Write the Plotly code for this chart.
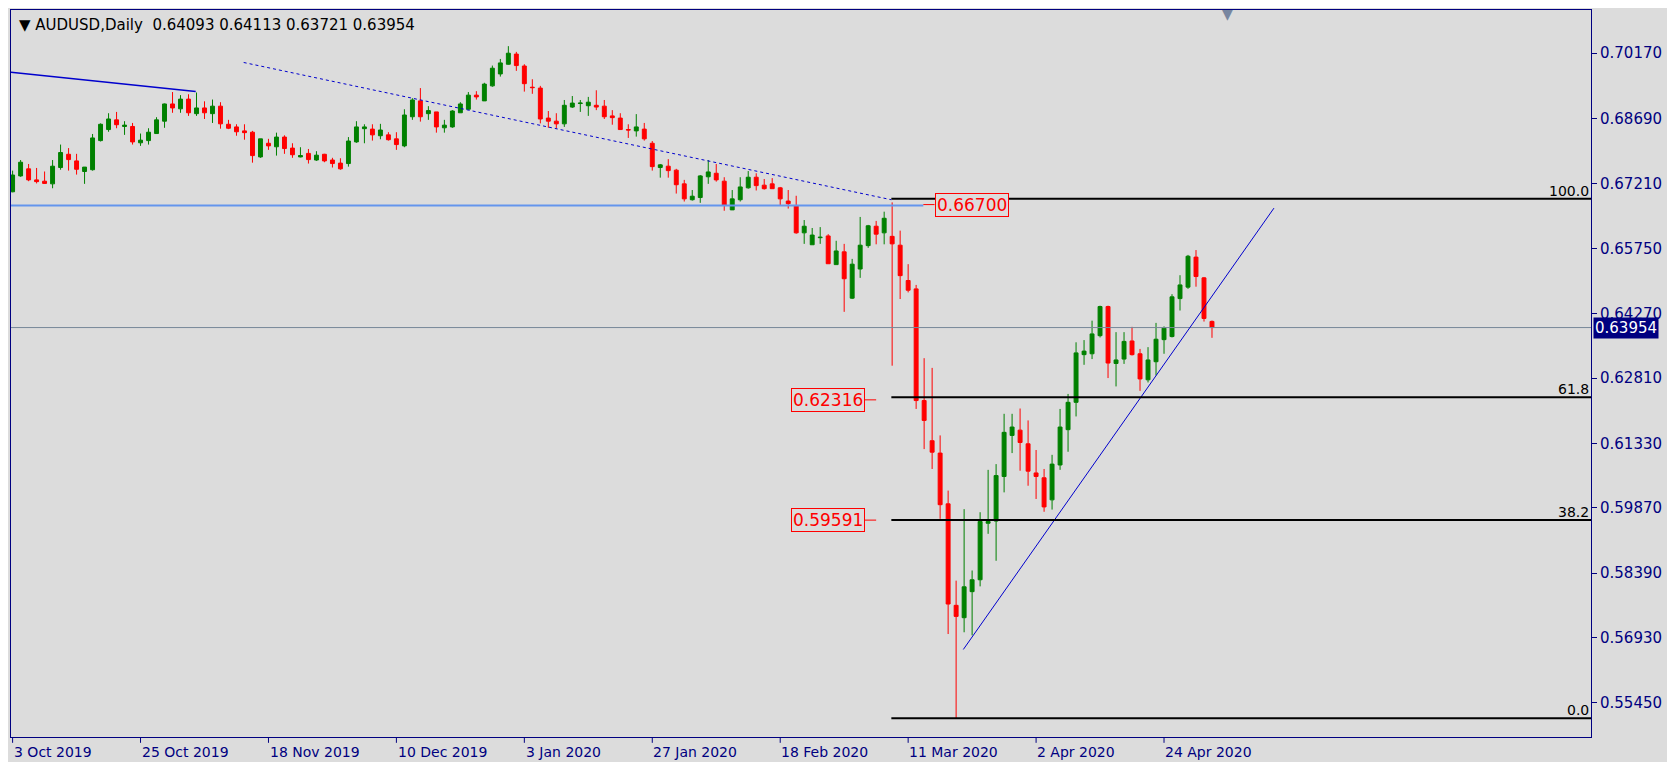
import plotly.graph_objects as go

# ---- data ----
opens = [0.6703,0.6739,0.6755,0.6730,0.6727,0.6721,0.6758,0.6788,0.6773,0.6749,
         0.6753,0.6819,0.6844,0.6866,0.6851,0.6851,0.6814,0.6819,0.6835,0.6863,
         0.6902,0.6891,0.6913,0.6880,0.6893,0.6880,0.6897,0.6856,0.6850,0.6841,
         0.6838,0.6782,0.6813,0.6805,0.6827,0.6802,0.6782,0.6790,0.6775,0.6788,
         0.6775,0.6768,0.6767,0.6816,0.6846,0.6845,0.6830,0.6832,0.6823,0.6807,
         0.6873,0.6909,0.6880,0.6884,0.6848,0.6850,0.6882,0.6890,0.6922,0.6909,
         0.6943,0.6970,0.6992,0.7015,0.6988,0.6940,0.6938,0.6870,0.6863,0.6857,
         0.6895,0.6903,0.6898,0.6899,0.6897,0.6875,0.6870,0.6844,0.6841,0.6845,
         0.6813,0.6758,0.6761,0.6752,0.6721,0.6685,0.6690,0.6737,0.6745,0.6727,
         0.6662,0.6685,0.6712,0.6736,0.6718,0.6721,0.6712,0.6682,0.6672,0.6610,
         0.6583,0.6599,0.6603,0.6538,0.6567,0.6462,0.6528,0.6581,0.6625,0.6610,
         0.6602,0.6582,0.6502,0.6483,0.6230,0.6139,0.6111,0.5996,0.5766,0.5738,
         0.5797,0.5824,0.5952,0.5957,0.6058,0.6151,0.6163,0.6132,0.6066,0.6055,
         0.6005,0.6084,0.6164,0.6226,0.6334,0.6336,0.6377,0.6443,0.6314,0.6324,
         0.6365,0.6336,0.6277,0.6318,0.6368,0.6375,0.6461,0.6487,0.6555,0.6508,
         0.64093]
highs = [0.6751,0.6775,0.6766,0.6757,0.6749,0.6775,0.6810,0.6802,0.6789,0.6759,
         0.6834,0.6858,0.6881,0.6884,0.6863,0.6859,0.6835,0.6847,0.6872,0.6903,
         0.6929,0.6922,0.6924,0.6928,0.6908,0.6912,0.6906,0.6866,0.6856,0.6856,
         0.6841,0.6823,0.6823,0.6837,0.6831,0.6813,0.6804,0.6800,0.6795,0.6789,
         0.6780,0.6779,0.6827,0.6863,0.6856,0.6856,0.6857,0.6838,0.6838,0.6890,
         0.6915,0.6938,0.6897,0.6884,0.6866,0.6888,0.6906,0.6929,0.6931,0.6950,
         0.6989,0.7004,0.7033,0.7020,0.6992,0.6958,0.6943,0.6886,0.6881,0.6911,
         0.6920,0.6911,0.6918,0.6933,0.6911,0.6888,0.6881,0.6856,0.6879,0.6859,
         0.6818,0.6766,0.6777,0.6755,0.6730,0.6707,0.6741,0.6775,0.6766,0.6736,
         0.6707,0.6736,0.6750,0.6745,0.6732,0.6734,0.6714,0.6707,0.6694,0.6639,
         0.6621,0.6623,0.6607,0.6592,0.6585,0.6551,0.6646,0.6628,0.6637,0.6658,
         0.6679,0.6615,0.6539,0.6492,0.6326,0.6304,0.6151,0.6026,0.5822,0.5984,
         0.5845,0.5977,0.6073,0.6086,0.6200,0.6200,0.6212,0.6185,0.6118,0.6075,
         0.6107,0.6211,0.6245,0.6362,0.6367,0.6411,0.6445,0.6445,0.6385,0.6385,
         0.6397,0.6347,0.6351,0.6406,0.6398,0.6471,0.6514,0.6560,0.6571,0.6510,
         0.64113]
lows = [0.6702,0.6737,0.6727,0.6722,0.6721,0.6711,0.6753,0.6751,0.6742,0.6721,
        0.6751,0.6817,0.6839,0.6847,0.6832,0.6810,0.6807,0.6810,0.6834,0.6848,
        0.6882,0.6882,0.6875,0.6875,0.6868,0.6859,0.6846,0.6845,0.6830,0.6821,
        0.6769,0.6780,0.6798,0.6785,0.6789,0.6780,0.6781,0.6767,0.6773,0.6770,
        0.6758,0.6753,0.6760,0.6814,0.6813,0.6819,0.6822,0.6819,0.6798,0.6804,
        0.6866,0.6862,0.6866,0.6837,0.6837,0.6848,0.6882,0.6889,0.6912,0.6909,
        0.6941,0.6964,0.6991,0.6977,0.6930,0.6925,0.6858,0.6848,0.6846,0.6850,
        0.6893,0.6884,0.6875,0.6888,0.6868,0.6855,0.6843,0.6825,0.6828,0.6819,
        0.6751,0.6735,0.6735,0.6699,0.6681,0.6683,0.6678,0.6721,0.6726,0.6660,
        0.6662,0.6681,0.6710,0.6706,0.6708,0.6710,0.6672,0.6665,0.6608,0.6585,
        0.6583,0.6585,0.6540,0.6538,0.6431,0.6460,0.6508,0.6576,0.6584,0.6584,
        0.6309,0.6460,0.6475,0.6211,0.6120,0.6075,0.5962,0.5701,0.5510,0.5705,
        0.5698,0.5809,0.5928,0.5867,0.6022,0.6111,0.6071,0.6037,0.6007,0.5978,
        0.5983,0.6073,0.6114,0.6194,0.6311,0.6324,0.6373,0.6281,0.6262,0.6313,
        0.6332,0.6252,0.6271,0.6287,0.6336,0.6373,0.6434,0.6483,0.6488,0.6409,
        0.63721]
closes = [0.6741,0.6770,0.6730,0.6726,0.6722,0.6761,0.6792,0.6776,0.6754,0.6759,
          0.6825,0.6856,0.6868,0.6855,0.6854,0.6816,0.6820,0.6838,0.6866,0.6902,
          0.6893,0.6913,0.6882,0.6893,0.6882,0.6897,0.6857,0.6847,0.6839,0.6837,
          0.6785,0.6823,0.6807,0.6827,0.6801,0.6787,0.6785,0.6776,0.6786,0.6773,
          0.6767,0.6755,0.6818,0.6850,0.6850,0.6832,0.6843,0.6821,0.6810,0.6877,
          0.6911,0.6873,0.6887,0.6850,0.6854,0.6886,0.6902,0.6922,0.6918,0.6947,
          0.6983,0.6995,0.7017,0.6989,0.6948,0.6939,0.6868,0.6863,0.6857,0.6899,
          0.6904,0.6904,0.6906,0.6895,0.6873,0.6871,0.6844,0.6843,0.6850,0.6823,
          0.6760,0.6764,0.6751,0.6719,0.6687,0.6693,0.6739,0.6748,0.6730,0.6672,
          0.6687,0.6714,0.6736,0.6717,0.6710,0.6710,0.6687,0.6676,0.6610,0.6625,
          0.6605,0.6600,0.6540,0.6569,0.6506,0.6539,0.6582,0.6626,0.6607,0.6643,
          0.6585,0.6513,0.6480,0.6230,0.6185,0.6113,0.5994,0.5769,0.5741,0.5808,
          0.5824,0.5956,0.5956,0.6060,0.6158,0.6170,0.6135,0.6070,0.6058,0.5989,
          0.6086,0.6170,0.6226,0.6338,0.6342,0.6381,0.6443,0.6315,0.6322,0.6364,
          0.6334,0.6279,0.6322,0.6369,0.6394,0.6465,0.6492,0.6557,0.6511,0.6416,
          0.63954]

date_labels = ["3 Oct 2019", "25 Oct 2019", "18 Nov 2019", "10 Dec 2019", "3 Jan 2020",
               "27 Jan 2020", "18 Feb 2020", "11 Mar 2020", "2 Apr 2020", "24 Apr 2020"]
bars_per_label = 16
price_ticks = [0.70170, 0.68690, 0.67210, 0.65750, 0.64270, 0.62810, 0.61330,
               0.59870, 0.58390, 0.56930, 0.55450]
fib_levels = [1.0, 0.618, 0.382, 0.0]
fib_labels = ["100.0", "61.8", "38.2", "0.0"]
fib_high, fib_low = 0.6687, 0.5510
last_price = 0.63954
level_line = 0.6672
header = "AUDUSD,Daily  0.64093 0.64113 0.63721 0.63954"

NAVY = "#000080"
BG = "#DCDCDC"
FONT = "DejaVu Sans"
n = len(closes)
x = list(range(n))
XMAX = 197.4

fig = go.Figure()
fig.add_trace(go.Candlestick(
    x=x, open=opens, high=highs, low=lows, close=closes,
    increasing=dict(line=dict(color="#008000", width=1), fillcolor="#008000"),
    decreasing=dict(line=dict(color="#FF0000", width=1), fillcolor="#FF0000"),
    whiskerwidth=0, showlegend=False, hoverinfo="skip"))

shapes = []
# horizontal level (light blue) and last price line
shapes.append(dict(type="line", x0=-1, x1=113.9, y0=level_line, y1=level_line,
                   line=dict(color="#6495ED", width=2)))
shapes.append(dict(type="line", x0=-1, x1=XMAX, y0=last_price, y1=last_price,
                   line=dict(color="#778899", width=1)))
# trendlines
shapes.append(dict(type="line", x0=-0.2, y0=0.6974, x1=22.9, y1=0.6930,
                   line=dict(color="#0000CD", width=1.5)))
shapes.append(dict(type="line", x0=28.9, y0=0.6996, x1=109.9, y1=0.6685,
                   line=dict(color="#0000CD", width=1, dash="dot")))
shapes.append(dict(type="line", x0=118.9, y0=0.5666, x1=157.75, y1=0.6666,
                   line=dict(color="#0000CD", width=1)))
# fibonacci lines
for lv, lab in zip(fib_levels, fib_labels):
    yv = fib_low + lv * (fib_high - fib_low)
    shapes.append(dict(type="line", x0=109.9, x1=XMAX, y0=yv, y1=yv,
                       line=dict(color="black", width=2)))
    fig.add_annotation(x=1, xref="paper", y=yv, yanchor="bottom", xanchor="right",
                       text=lab, showarrow=False, font=dict(family=FONT, size=14, color="black"),
                       yshift=-2)
# small red connector ticks for price labels
for yv, xa, xb in [(level_line + 0.0002, 113.9, 115.3), (0.62316, 106.6, 108.0), (0.59591, 106.6, 108.0)]:
    shapes.append(dict(type="line", x0=xa, x1=xb, y0=yv, y1=yv, line=dict(color="red", width=1)))

def price_label(xv, yv, txt, anchor):
    fig.add_annotation(x=xv, y=yv, text=txt, xanchor=anchor, showarrow=False,
                       font=dict(family=FONT, size=17, color="red"),
                       bordercolor="red", borderwidth=1, borderpad=1, bgcolor=BG)

price_label(115.3, level_line + 0.0002, "0.66700", "left")
price_label(106.6, 0.62316, "0.62316", "right")
price_label(106.6, 0.59591, "0.59591", "right")

# date labels, left-aligned on tick
for i, lab in enumerate(date_labels):
    fig.add_annotation(x=i * bars_per_label - 0.1, y=0, yref="paper", yanchor="top",
                       xanchor="left", text=lab, showarrow=False, yshift=-5,
                       font=dict(family=FONT, size=14, color=NAVY))
    shapes.append(dict(type="line", x0=i * bars_per_label, x1=i * bars_per_label,
                       y0=0, y1=-0.008, yref="paper", line=dict(color=NAVY, width=1)))

# last price tag
fig.add_annotation(x=1, xref="paper", y=last_price, xanchor="left", text="0.63954",
                   showarrow=False, bgcolor=NAVY, font=dict(family=FONT, size=15, color="white"),
                   xshift=2, borderpad=1)
# header
fig.add_annotation(x=0, xref="paper", y=1, yref="paper", xanchor="left", yanchor="top",
                   text="\u25BC " + header, showarrow=False, xshift=6, yshift=-4,
                   font=dict(family=FONT, size=15, color="black"))
fig.add_annotation(x=152, y=1, yref="paper", yanchor="top", text="\u25BC", showarrow=False,
                   font=dict(size=14, color="#7886A0"), yshift=6)

fig.update_layout(
    width=1675, height=762, paper_bgcolor=BG, plot_bgcolor=BG,
    margin=dict(l=3, r=92, t=2, b=33), shapes=shapes,
    xaxis=dict(range=[-0.2, XMAX], rangeslider=dict(visible=False), showgrid=False,
               showticklabels=False, zeroline=False, showline=True, linecolor=NAVY,
               mirror=True, linewidth=1),
    yaxis=dict(range=[0.54677, 0.71149], side="right", tickvals=price_ticks,
               ticktext=[f"{v:.5f}" for v in price_ticks], showgrid=False, zeroline=False,
               ticks="outside", ticklen=5, tickcolor=NAVY, showline=True, linecolor=NAVY,
               mirror=True, tickfont=dict(family=FONT, size=15, color=NAVY)),
    font=dict(family=FONT),
)
fig.write_html("out.html")
